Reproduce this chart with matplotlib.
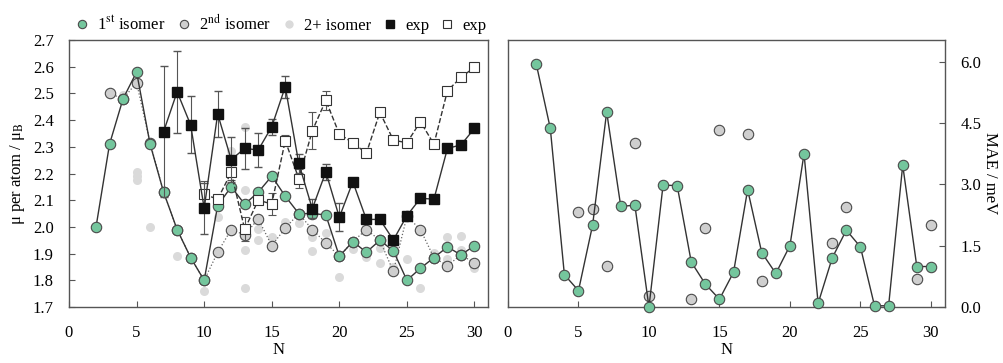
import numpy as np
import matplotlib
matplotlib.use("Agg")
import matplotlib.pyplot as plt
from matplotlib.lines import Line2D

plt.rcParams['font.family'] = 'serif'
plt.rcParams['font.serif'] = ['Liberation Serif', 'DejaVu Serif']
plt.rcParams['mathtext.fontset'] = 'stix'
plt.rcParams['font.size'] = 12

# magnetic moment per atom
n_iso = np.arange(2, 31)
mu_1st = [2.00, 2.31, 2.48, 2.58, 2.31, 2.13, 1.99, 1.885, 1.80, 2.08,
          2.15, 2.085, 2.13, 2.19, 2.115, 2.05, 2.05, 2.045, 1.89, 1.945,
          1.905, 1.95, 1.91, 1.80, 1.845, 1.885, 1.925, 1.895, 1.93]

n_2nd = np.arange(3, 31)
mu_2nd = [2.50, 2.48, 2.54, 2.315, 2.13, 1.99, 1.885, 1.80, 1.905, 1.99,
          1.97, 2.03, 1.93, 1.995, 2.05, 1.99, 1.94, 1.89, 1.945, 1.99,
          1.95, 1.833, 2.04, 1.99, 1.885, 1.855, 1.895, 1.865]

n_more = [4, 5, 5, 5, 6, 8, 10, 11, 12, 13, 13, 13, 13, 14, 14, 15, 16, 17,
          18, 18, 19, 20, 21, 22, 23, 23, 24, 25, 26, 27, 28, 28, 29, 29, 30]
mu_more = [2.494, 2.207, 2.192, 2.176, 2.00, 1.891, 1.761, 2.038, 2.286,
           2.374, 2.138, 1.915, 1.77, 1.992, 1.95, 1.962, 2.02, 2.015,
           1.961, 1.911, 1.979, 1.811, 1.918, 1.888, 1.92, 1.866, 1.85,
           1.88, 1.77, 1.903, 1.961, 1.88, 1.967, 1.912, 1.845]

n_exp1 = np.arange(7, 31)
mu_exp1 = [2.357, 2.506, 2.382, 2.07, 2.423, 2.252, 2.294, 2.288, 2.375,
           2.525, 2.238, 2.068, 2.206, 2.036, 2.169, 2.028, 2.028, 1.951,
           2.042, 2.107, 2.104, 2.294, 2.307, 2.369]
err_exp1 = [0.245, 0.153, 0.107, 0.095, 0.085, 0.085, 0.076, 0.065, 0.03,
            0.042, 0.035, 0.035, 0.03, 0.052, 0, 0, 0, 0,
            0, 0, 0, 0, 0, 0]

n_exp2 = np.arange(10, 31)
mu_exp2 = [2.122, 2.104, 2.204, 1.991, 2.10, 2.086, 2.323, 2.181, 2.36,
           2.474, 2.348, 2.315, 2.276, 2.429, 2.325, 2.315, 2.394, 2.31,
           2.51, 2.56, 2.598]
err_exp2 = [0.05, 0, 0.03, 0.045, 0, 0.04, 0.02, 0.035, 0.07, 0.035,
            0, 0, 0, 0, 0, 0, 0, 0, 0, 0, 0]

# magnetic anisotropy energy
mae_1st = [5.95, 4.37, 0.79, 0.40, 2.00, 4.77, 2.46, 2.49, 0.00, 2.98,
           2.97, 1.10, 0.56, 0.19, 0.85, 2.87, 1.33, 0.82, 1.50, 3.75,
           0.09, 1.20, 1.88, 1.47, 0.03, 0.03, 3.47, 0.99, 0.99]
n_mae2 = [5, 6, 7, 9, 10, 13, 14, 15, 17, 18, 23, 24, 29, 30]
mae_2nd = [2.33, 2.39, 1.00, 4.02, 0.26, 0.20, 1.94, 4.32, 4.24, 0.64,
           1.57, 2.45, 0.69, 2.00]

green = '#74c69d'
grey = '#cfcfcf'
light = '#dadada'
edge = '#4a4a4a'
line = '#333333'

fig = plt.figure(figsize=(10.04, 3.63), dpi=100)
ax1 = fig.add_axes([69/1004, 56/363, 419/1004, 267/363])
ax2 = fig.add_axes([508/1004, 56/363, 437/1004, 267/363])

ax1.plot(n_more, mu_more, 'o', ms=6.5, color=light, mec='none', zorder=1)
ax1.plot(n_2nd, mu_2nd, ':', color='#666666', lw=0.9, marker='o', ms=7.5,
         mfc=grey, mec=edge, mew=0.8, zorder=2)
ax1.plot(n_iso, mu_1st, '-', color=line, lw=1, marker='o', ms=7.5,
         mfc=green, mec=edge, mew=0.8, zorder=3)
ax1.errorbar(n_exp2, mu_exp2, yerr=err_exp2, fmt='s', ls='--', color=line,
             lw=1, ms=7.5, mfc='white', mec=line, mew=0.8, ecolor='#555555',
             elinewidth=0.8, capsize=3, zorder=4)
ax1.errorbar(n_exp1, mu_exp1, yerr=err_exp1, fmt='s', ls='-', color=line,
             lw=1, ms=7.5, mfc='#111111', mec='#111111', ecolor='#555555',
             elinewidth=0.8, capsize=3, zorder=5)

ax1.set_xlim(0, 31)
ax1.set_ylim(1.7, 2.7)
ax1.set_xticks(range(0, 31, 5))
ax1.set_yticks(np.arange(1.7, 2.71, 0.1))
ax1.set_yticklabels([f"{v:.1f}" for v in np.arange(1.7, 2.71, 0.1)])
ax1.set_xlabel("N")
ax1.set_ylabel(r"μ per atom / μ$_\mathrm{B}$", labelpad=4)

ax2.plot(n_mae2, mae_2nd, 'o', ms=7.5, mfc=grey, mec=edge, mew=0.8,
         clip_on=False, zorder=2)
ax2.plot(n_iso, mae_1st, '-', color=line, lw=1, marker='o', ms=7.5,
         mfc=green, mec=edge, mew=0.8, clip_on=False, zorder=3)
ax2.set_xlim(0, 31)
ax2.set_ylim(0, 6.53)
ax2.set_xticks(range(0, 31, 5))
ax2.set_yticks([0, 1.5, 3.0, 4.5, 6.0])
ax2.set_yticklabels(["0.0", "1.5", "3.0", "4.5", "6.0"])
ax2.yaxis.tick_right()
ax2.yaxis.set_label_position('right')
ax2.set_ylabel("MAE / meV", rotation=270, labelpad=12)
ax2.set_xlabel("N")

for ax in (ax1, ax2):
    for s in ax.spines.values():
        s.set_color('#555555')
        s.set_linewidth(1)
    ax.tick_params(direction='in', length=4, color='#555555')
    ax.tick_params(axis='x', pad=13)
    ax.tick_params(axis='y', pad=11)
    ax.xaxis.labelpad = 1

handles = [
    Line2D([], [], ls='none', marker='o', ms=6, mfc=green, mec=edge, mew=0.8),
    Line2D([], [], ls='none', marker='o', ms=6, mfc=grey, mec=edge, mew=0.8),
    Line2D([], [], ls='none', marker='o', ms=6, mfc=light, mec='none'),
    Line2D([], [], ls='none', marker='s', ms=6, mfc='#111111', mec='#111111'),
    Line2D([], [], ls='none', marker='s', ms=6, mfc='white', mec=line, mew=0.8),
]
labels = [r"1$^\mathrm{st}$ isomer", r"2$^\mathrm{nd}$ isomer", "2+ isomer",
          "exp", "exp"]
fig.legend(handles, labels, loc='center', bbox_to_anchor=(0.28, 0.935),
           ncol=5, frameon=False, handlelength=0.8, handletextpad=0.5,
           columnspacing=0.7)

fig.savefig("out.png", dpi=100)
